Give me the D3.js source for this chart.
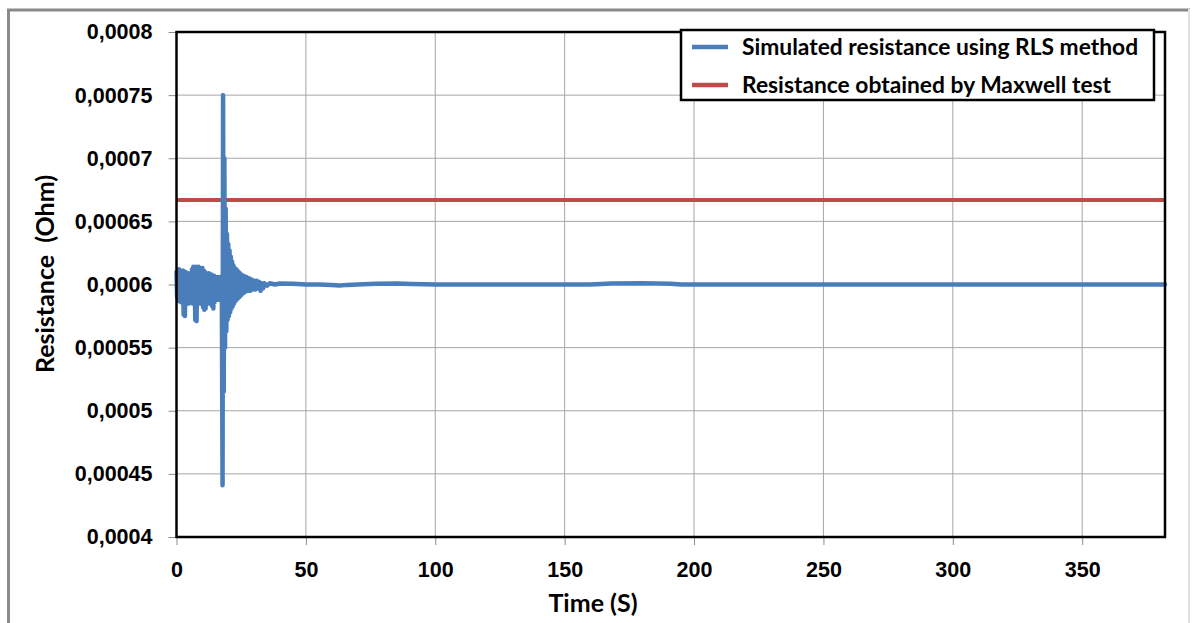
<!DOCTYPE html>
<html>
<head>
<meta charset="utf-8">
<script src="https://cdn.jsdelivr.net/npm/d3@7"></script>
<style>
  body { margin: 0; background: #fff; }
  svg { display: block; font-family: Lato, "Open Sans", sans-serif; font-weight: bold; }
  .grid line { stroke: #a6a6a6; stroke-width: 1; }
  .axis path { display: none; }
  .axis line { stroke: #8c8c8c; }
  .axis text { fill: #000; font-size: 21.5px; font-weight: bold; }
</style>
</head>
<body>
<svg id="chart" width="1192" height="623"></svg>
<script>
// x ticks (seconds) and y ticks (ohm)
const xTicks = [0, 50, 100, 150, 200, 250, 300, 350];
const yTicks = [0.0004, 0.00045, 0.0005, 0.00055, 0.0006, 0.00065, 0.0007, 0.00075, 0.0008];
const yTickLabels = ["0,0004", "0,00045", "0,0005", "0,00055", "0,0006", "0,00065", "0,0007", "0,00075", "0,0008"];

// simulated resistance (RLS)
const time = [
  0, 0.25, 0.5, 0.75, 1, 1.25, 1.5, 1.75, 2, 2.25, 2.5, 2.75, 3, 3.25, 3.5, 3.75,
  4, 4.25, 4.5, 4.75, 5, 5.25, 5.5, 5.75, 6, 6.25, 6.5, 6.75, 7, 7.25, 7.5, 7.75,
  8, 8.25, 8.5, 8.75, 9, 9.25, 9.5, 9.75, 10, 10.25, 10.5, 10.75, 11, 11.25, 11.5, 11.75,
  12, 12.25, 12.5, 12.75, 13, 13.25, 13.5, 13.75, 14, 14.25, 14.5, 14.75, 15, 15.25, 15.5, 15.75,
  16, 16.25, 16.5, 16.75, 17, 17.25, 17.5, 17.8,
  18, 18.25, 18.5, 18.75, 19, 19.25, 19.5, 19.75, 20, 20.25, 20.5, 20.75, 21, 21.25, 21.5, 21.75,
  22, 22.25, 22.5, 22.75, 23, 23.25, 23.5, 23.75, 24, 24.25, 24.5, 24.75, 25, 25.25, 25.5, 25.75,
  26, 26.5, 27, 27.5, 28, 28.5, 29, 29.5, 30, 30.5, 31, 31.5,
  32, 32.5, 33, 33.5, 34, 35, 36, 38, 40, 45, 50, 55, 60, 63, 66, 70,
  77, 85, 91, 100, 130, 160, 168, 180, 191, 195, 250, 300, 382
];
const resistance = [
  0.000610, 0.000590, 0.000611, 0.000587, 0.000612, 0.000589, 0.000610, 0.000586,
  0.000609, 0.000588, 0.000611, 0.000576, 0.000609, 0.000575, 0.000610, 0.000586,
  0.000608, 0.000588, 0.000609, 0.000585, 0.000608, 0.000587, 0.000609, 0.000586,
  0.000612, 0.000585, 0.000614, 0.000587, 0.000613, 0.000572, 0.000614, 0.000571,
  0.000613, 0.000586, 0.000614, 0.000587, 0.000613, 0.000585, 0.000612, 0.000586,
  0.000613, 0.000582, 0.000611, 0.000580, 0.000610, 0.000581, 0.000609, 0.000586,
  0.000608, 0.000587, 0.000609, 0.000585, 0.000607, 0.000586, 0.000608, 0.000583,
  0.000606, 0.000581, 0.000607, 0.000586, 0.000606, 0.000588, 0.000605, 0.000589,
  0.000606, 0.000588, 0.000605, 0.000590, 0.000606, 0.000589, 0.000605, 0.000441,
  0.000750, 0.000515, 0.000700, 0.000550, 0.000660, 0.000563, 0.000640, 0.000572,
  0.000632, 0.000575, 0.000627, 0.000578, 0.000622, 0.000581, 0.000618, 0.000583,
  0.000615, 0.000585, 0.000613, 0.000587, 0.000612, 0.000588, 0.000611, 0.000589,
  0.000610, 0.000590, 0.000609, 0.000591, 0.000608, 0.000592, 0.000607, 0.000593,
  0.000607, 0.000594, 0.000606, 0.000595, 0.000605, 0.000595, 0.000604, 0.000596,
  0.000603, 0.000596, 0.000603, 0.000597,
  0.000602, 0.000595, 0.000601, 0.000597, 0.000601, 0.000599, 0.000601, 0.000600,
  0.0006008, 0.0006006, 0.000600, 0.000600, 0.0005996, 0.0005993, 0.0005997, 0.000600,
  0.0006006, 0.0006008, 0.0006004, 0.000600, 0.000600, 0.000600, 0.0006008, 0.000601,
  0.0006006, 0.000600, 0.000600, 0.000600, 0.000600
];

// Maxwell test value (flat line)
const maxwellTime = [0, 382];
const maxwellValue = [0.000667, 0.000667];

const legendLabels = ["Simulated resistance using RLS method", "Resistance obtained by Maxwell test"];
const colors = ["#4a7ebb", "#be4b48"];

const plotLeft = 176.5, plotRight = 1165, plotTop = 32, plotBottom = 537;

const svg = d3.select("#chart");

const x = d3.scaleLinear().domain([0, 382]).range([plotLeft, plotRight]);
const y = d3.scaleLinear().domain([0.0004, 0.0008]).range([plotBottom, plotTop]);

// outer frame of the picture
svg.append("line").attr("x1", 8.5).attr("x2", 8.5).attr("y1", 9).attr("y2", 623)
  .attr("stroke", "#8a8a8a").attr("stroke-width", 3);
svg.append("line").attr("x1", 7).attr("x2", 1190).attr("y1", 10).attr("y2", 10)
  .attr("stroke", "#8a8a8a").attr("stroke-width", 3);
svg.append("line").attr("x1", 1189).attr("x2", 1189).attr("y1", 9).attr("y2", 623)
  .attr("stroke", "#e2e2e2").attr("stroke-width", 2);

// gridlines
svg.append("g").attr("class", "grid")
  .selectAll("line").data(xTicks.slice(1)).enter().append("line")
  .attr("x1", d => x(d)).attr("x2", d => x(d)).attr("y1", plotTop).attr("y2", plotBottom);
svg.append("g").attr("class", "grid")
  .selectAll("line").data(yTicks.slice(1)).enter().append("line")
  .attr("x1", plotLeft).attr("x2", plotRight).attr("y1", d => y(d)).attr("y2", d => y(d));

// axes
svg.append("g").attr("class", "axis")
  .attr("transform", "translate(0," + plotBottom + ")")
  .call(d3.axisBottom(x).tickValues(xTicks).tickSize(8).tickPadding(17));
svg.append("g").attr("class", "axis")
  .attr("transform", "translate(" + plotLeft + ",0)")
  .call(d3.axisLeft(y).tickValues(yTicks).tickSize(8).tickPadding(16)
    .tickFormat((d, i) => yTickLabels[i]));

// data lines
const line = d3.line().x(d => x(d[0])).y(d => y(d[1]));
svg.append("path")
  .datum(d3.zip(maxwellTime, maxwellValue))
  .attr("d", line)
  .attr("fill", "none").attr("stroke", colors[1]).attr("stroke-width", 4);
svg.append("path")
  .datum(d3.zip(time, resistance))
  .attr("d", line)
  .attr("fill", "none").attr("stroke", colors[0]).attr("stroke-width", 4.5)
  .attr("stroke-linejoin", "round").attr("stroke-linecap", "round");

// plot border
svg.append("rect")
  .attr("x", plotLeft).attr("y", plotTop).attr("width", plotRight - plotLeft).attr("height", plotBottom - plotTop)
  .attr("fill", "none").attr("stroke", "#000").attr("stroke-width", 2.5);

// axis titles
svg.append("text").attr("x", 593).attr("y", 612).attr("text-anchor", "middle")
  .attr("font-size", 25).text("Time (S)");
svg.append("text").attr("transform", "translate(54,274) rotate(-90)")
  .attr("text-anchor", "middle").attr("font-size", 25).style("white-space", "pre")
  .text("Resistance  (Ohm)");

// legend
const legend = svg.append("g");
legend.append("rect").attr("x", 681).attr("y", 30).attr("width", 473).attr("height", 70)
  .attr("fill", "#fff").attr("stroke", "#000").attr("stroke-width", 2.5);
legendLabels.forEach(function(label, i) {
  let ly = 47 + i * 38;
  legend.append("line").attr("x1", 692).attr("x2", 728).attr("y1", ly).attr("y2", ly)
    .attr("stroke", colors[i]).attr("stroke-width", 4.5);
  legend.append("text").attr("x", 742).attr("y", ly + 8).attr("font-size", 22.8).text(label);
});
</script>
</body>
</html>
